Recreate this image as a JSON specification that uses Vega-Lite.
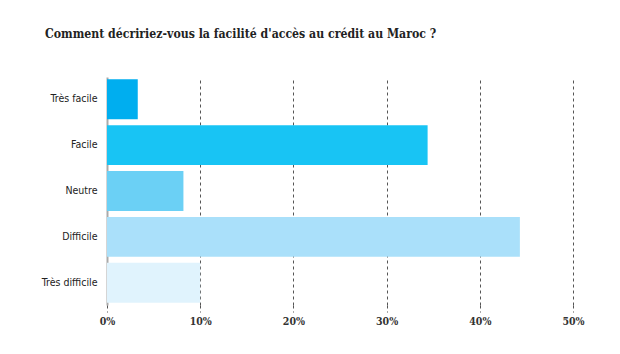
{
  "$schema": "https://vega.github.io/schema/vega-lite/v6.json",
  "width": 466,
  "height": 228,
  "autosize": {"type": "none"},
  "padding": {"left": 107, "top": 77, "right": 47, "bottom": 49},
  "background": "white",
  "title": {
    "text": "Comment décririez-vous la facilité d'accès au crédit au Maroc ?",
    "anchor": "start",
    "frame": "group",
    "dx": -62,
    "offset": 37,
    "font": "DejaVu Serif Condensed",
    "fontSize": 12.2,
    "fontWeight": "bold",
    "color": "#222222"
  },
  "data": {
    "values": [
      {"categorie": "Très facile", "pourcentage": 3.3},
      {"categorie": "Facile", "pourcentage": 34.4},
      {"categorie": "Neutre", "pourcentage": 8.2},
      {"categorie": "Difficile", "pourcentage": 44.3},
      {"categorie": "Très difficile", "pourcentage": 10.0}
    ]
  },
  "mark": {"type": "bar"},
  "encoding": {
    "y": {
      "field": "categorie",
      "type": "nominal",
      "sort": null,
      "title": null,
      "scale": {"paddingInner": 0.13, "paddingOuter": 0.05},
      "axis": {
        "ticks": false,
        "domain": true,
        "domainColor": "#aaaaaa",
        "domainWidth": 2,
        "labelFont": "DejaVu Sans Condensed",
        "labelFontSize": 10.5,
        "labelColor": "#222222",
        "labelPadding": 10
      }
    },
    "x": {
      "field": "pourcentage",
      "type": "quantitative",
      "title": null,
      "scale": {"domain": [0, 50], "nice": false},
      "axis": {
        "values": [0, 10, 20, 30, 40, 50],
        "labelExpr": "datum.value + '%'",
        "labelFlush": false,
        "domain": false,
        "grid": true,
        "gridColor": "#555555",
        "gridDash": [3, 3],
        "gridWidth": 1,
        "ticks": true,
        "tickSize": 7,
        "tickColor": "#555555",
        "tickDash": [3, 3],
        "labelFont": "DejaVu Serif Condensed",
        "labelFontSize": 10.5,
        "labelFontWeight": "bold",
        "labelColor": "#333333",
        "labelPadding": 4
      }
    },
    "color": {
      "field": "categorie",
      "type": "nominal",
      "sort": null,
      "legend": null,
      "scale": {
        "domain": ["Très facile", "Facile", "Neutre", "Difficile", "Très difficile"],
        "range": ["#00aeef", "#18c4f4", "#6bd0f5", "#aae0fa", "#e0f3fd"]
      }
    }
  },
  "config": {"view": {"stroke": null}}
}
